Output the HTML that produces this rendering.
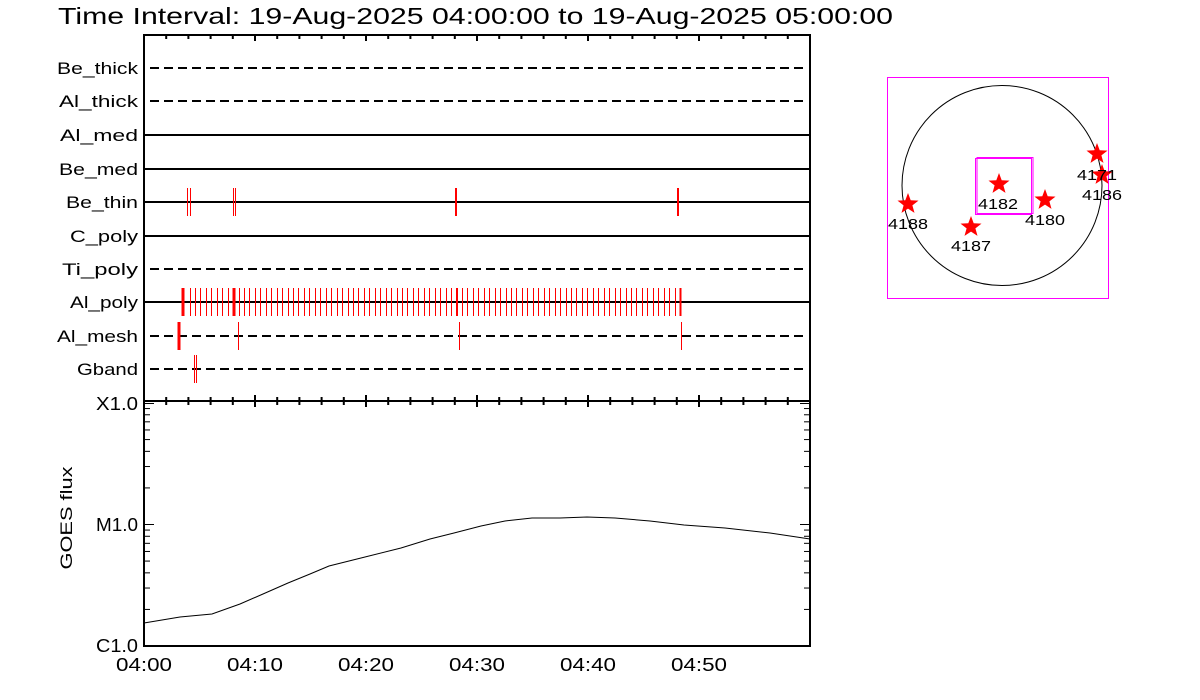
<!DOCTYPE html>
<html><head><meta charset="utf-8"><style>
html,body{margin:0;padding:0;background:#fff;}
svg{display:block;font-family:"Liberation Sans",sans-serif;}
</style></head><body>
<svg id="s" width="1200" height="700" viewBox="0 0 1200 700" xmlns="http://www.w3.org/2000/svg">
<rect width="1200" height="700" fill="#fff"/>
<text x="58" y="24" font-size="23" fill="#000" textLength="835" lengthAdjust="spacingAndGlyphs">Time Interval: 19-Aug-2025 04:00:00 to 19-Aug-2025 05:00:00</text>
<g id="g"></g>
<rect x="887.5" y="77.5" width="221" height="221" fill="none" stroke="#f0f" stroke-width="1"/>
<circle cx="1002" cy="185.5" r="100" fill="none" stroke="#000" stroke-width="1"/>
<rect x="975.5" y="158.5" width="56" height="56" fill="none" stroke="#f0f" stroke-width="1"/>
<rect x="977" y="157.5" width="56" height="56" fill="none" stroke="#f0f" stroke-width="1"/>
<g id="stars" fill="#f00"></g>
<g font-size="15" fill="#000" text-anchor="middle">
<text x="998" y="209" textLength="40" lengthAdjust="spacingAndGlyphs">4182</text>
<text x="1045" y="225" textLength="40" lengthAdjust="spacingAndGlyphs">4180</text>
<text x="908" y="229" textLength="40" lengthAdjust="spacingAndGlyphs">4188</text>
<text x="971" y="251" textLength="40" lengthAdjust="spacingAndGlyphs">4187</text>
<text x="1097" y="180" textLength="40" lengthAdjust="spacingAndGlyphs">4171</text>
<text x="1102" y="200" textLength="40" lengthAdjust="spacingAndGlyphs">4186</text>
</g>
<text transform="translate(72,518) rotate(-90)" font-size="17" text-anchor="middle" textLength="103" lengthAdjust="spacingAndGlyphs">GOES flux</text>
</svg>
<script>
var g=document.getElementById('g'),h='';
function L(x1,y1,x2,y2,w,c,d){h+='<line x1="'+x1+'" y1="'+y1+'" x2="'+x2+'" y2="'+y2+'" stroke="'+(c||'#000')+'" stroke-width="'+(w||1)+'"'+(d?' stroke-dasharray="'+d+'"':'')+'/>';}
function T(x,y,s,a,fs,tl){h+='<text x="'+x+'" y="'+y+'" font-size="'+(fs||17)+'" text-anchor="'+(a||'end')+'"'+(tl?' textLength="'+tl+'" lengthAdjust="spacingAndGlyphs"':'')+'>'+s+'</text>';}
var X0=144,X1=810,px=(X1-X0)/60;
L(X0,35,X1,35,2);L(X0,34,X0,647,2);L(X1,34,X1,647,2);L(X0,401,X1,401,2);L(X0,646,X1,646,2);
for(var m=0;m<=60;m+=2){var x=X0+m*px;var maj=m%10==0;
 L(x,35,x,maj?41:39,2);
 L(x,maj?395:397,x,maj?407:405,2);
 if(maj&&m<60){T(x,671,'04:'+(m==0?'00':m),'middle',18,56);}
}
var rows=[['Be_thick',68,1,81],['Al_thick',101,1,79],['Al_med',135,0,78],['Be_med',169,0,79],['Be_thin',202,0,72],['C_poly',236,0,68],['Ti_poly',269,1,76],['Al_poly',302,0,68],['Al_mesh',336,1,81],['Gband',369,1,61]];
rows.forEach(function(r){T(138,r[1]+6,r[0],'end',17,r[3]);if(r[2])L(150,r[1],806,r[1],2,'#000','9,5');else L(X0,r[1],X1,r[1],2);});
var dec=121.5;
[['X1.0',410],['M1.0',531],['C1.0',652]].forEach(function(a){T(138,a[1],a[0],'end',18,42);});
for(var d=0;d<2;d++){for(var k=1;k<10;k++){var y=646-d*dec-Math.log10(k)*dec;var len=k==1?10:6;
 if(k==1&&d==0)continue;L(X0,y,X0+len,y,1);L(X1-len,y,X1,y,1);}}
L(X0,403.5,X0+10,403.5,1);L(X1-10,403.5,X1,403.5,1);
var pts=[[144,623],[180,617],[212,614],[240,604],[263,594],[288,583],[310,574],[329,566],[365,557],[401,548],[430,539],[454,533],[481,526],[505,521],[532,518],[560,518],[587,517],[615,518],[650,521],[684,525],[725,528],[770,533],[810,539]];
h+='<polyline fill="none" stroke="#000" stroke-width="1" points="'+pts.map(function(p){return p.join(',')}).join(' ')+'"/>';
var R='#f00';
function tk(x,y,w){L(x,y-14,x,y+14,w,R);}
tk(187.5,202,1);tk(190.5,202,1);tk(233.5,202,1);tk(235.5,202,1);tk(456,202,2);tk(678,202,2);
tk(183,302,3);tk(234,302,3);tk(457,302,2);tk(680.5,302,2);
for(var x=189.5;x<678;x+=5.45){if(Math.abs(x-234)<2||Math.abs(x-457)<2)continue;tk(Math.round(x)+0.5,302,1);}
tk(179,336,3);tk(238.5,336,1);tk(459.5,336,1);tk(681.5,336,1);
tk(194.5,369,1);tk(196.5,369,1);
g.innerHTML=h;
var s='';
function star(cx,cy,r){var p=[];for(var i=0;i<10;i++){var a=-Math.PI/2+i*Math.PI/5;var rr=i%2?r*0.42:r;p.push((cx+rr*Math.cos(a)).toFixed(1)+','+(cy+rr*Math.sin(a)).toFixed(1));}s+='<polygon points="'+p.join(' ')+'"/>';}
[[999,184],[1045,200],[908,204],[971,227],[1097,154],[1102,175]].forEach(function(p){star(p[0],p[1],11);});
document.getElementById('stars').innerHTML=s;
</script>
</body></html>
